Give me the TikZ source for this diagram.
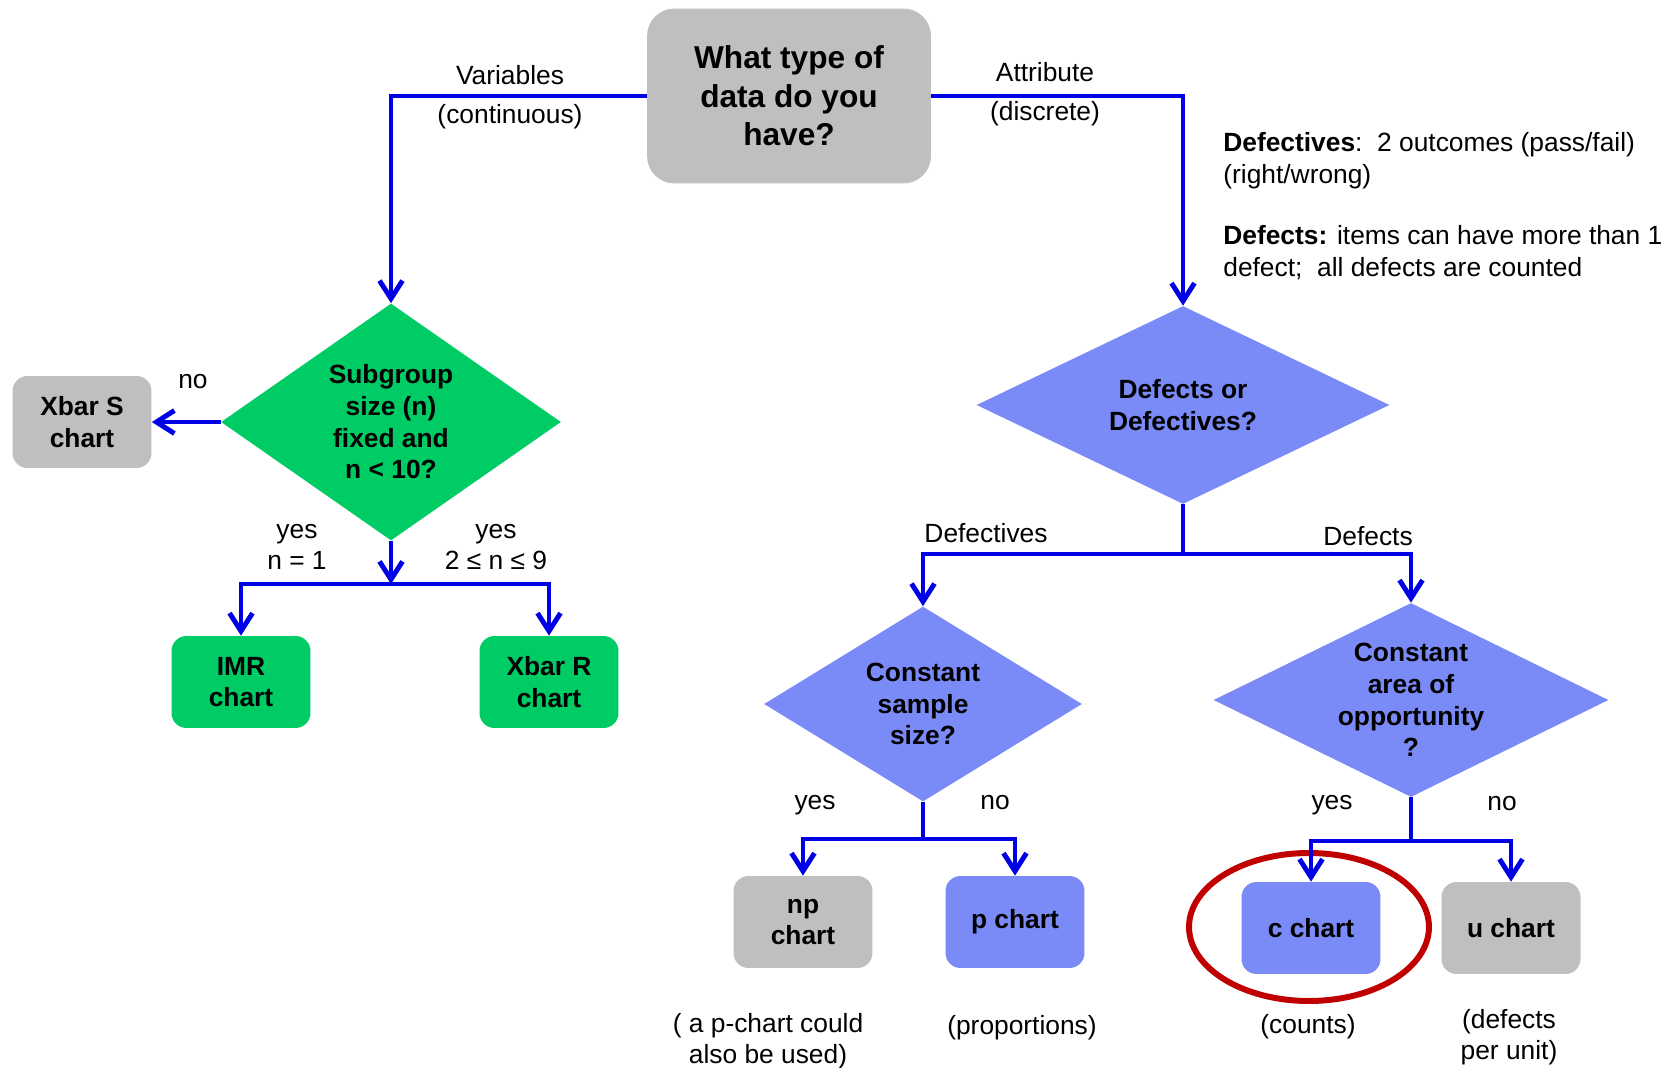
\documentclass[tikz,border=0pt]{standalone}
\usepackage{fontspec}
\setmainfont{Liberation Sans}
\usetikzlibrary{shapes.geometric,arrows.meta}
\definecolor{boxgray}{RGB}{191,191,191}
\definecolor{qgreen}{RGB}{0,204,102}
\definecolor{qblue}{RGB}{122,139,248}
\definecolor{linkblue}{RGB}{0,0,230}
\definecolor{ringred}{RGB}{192,0,0}
\tikzset{
	txt/.style={font=\fontsize{15}{18}\selectfont, align=center, inner sep=0pt},
	chart/.style={txt, font=\fontsize{15}{18}\selectfont\bfseries, rounded corners=0.3cm, minimum width=2.78cm, minimum height=1.84cm},
	ask/.style={txt, font=\fontsize{15}{18}\selectfont\bfseries, diamond},
	link/.style={linkblue, line width=2.8pt},
	arr/.style={link, -{Straight Barb[length=0.36cm,width=0.46cm]}}
}
\begin{document}
\begin{tikzpicture}[x=0.02cm,y=-0.02cm]
		\useasboundingbox (0,0) rectangle (1671,1068);
		\node[txt, font=\fontsize{18}{22}\selectfont\bfseries, fill=boxgray, rounded corners=0.55cm, minimum width=5.68cm, minimum height=3.5cm] (type) at (789,96) {What type of\\data do you\\have?};
		\node[ask, fill=qgreen, aspect=1.43, minimum width=6.8cm, minimum height=4.74cm] (sub) at (391,422) {Subgroup\\size (n)\\fixed and\\n < 10?};
		\node[ask, fill=qblue, aspect=2.08, minimum width=8.26cm, minimum height=3.96cm] (dd) at (1183,405) {Defects or\\Defectives?};
		\node[ask, fill=qblue, aspect=1.63, minimum width=6.36cm, minimum height=3.9cm] (size) at (923,704) {Constant\\sample\\size?};
		\node[ask, fill=qblue, aspect=2.04, minimum width=7.9cm, minimum height=3.88cm] (area) at (1411,700) {Constant\\area of\\opportunity\\?};
		\node[chart, fill=boxgray] (xbars) at (82,422) {Xbar S\\chart};
		\node[chart, fill=qgreen] (imr) at (241,682) {IMR\\chart};
		\node[chart, fill=qgreen] (xbarr) at (549,682) {Xbar R\\chart};
		\node[chart, fill=boxgray] (np) at (803,922) {np\\chart};
		\node[chart, fill=qblue] (p) at (1015,922) {p chart};
		\node[chart, fill=qblue] (c) at (1311,928) {c chart};
		\node[chart, fill=boxgray] (u) at (1511,928) {u chart};
		\draw[ringred, line width=3.4pt] (1309,927) ellipse (2.4cm and 1.48cm);
		\coordinate (subj) at (391,584);
		\coordinate (ddj) at (1183,554);
		\coordinate (sizej) at (923,839);
		\coordinate (areaj) at (1411,841);
		\draw[arr] (type.west) -| (sub.north);
		\draw[arr] (type.east) -| (dd.north);
		\draw[arr] (sub.west) -- (xbars.east);
		\draw[arr] (sub.south) -- (subj);
		\draw[arr] (subj) -| (imr.north);
		\draw[arr] (subj) -| (xbarr.north);
		\draw[link] (dd.south) -- (ddj);
		\draw[arr] (ddj) -| (size.north);
		\draw[arr] (ddj) -| (area.north);
		\draw[link] (size.south) -- (sizej);
		\draw[arr] (sizej) -| (np.north);
		\draw[arr] (sizej) -| (p.north);
		\draw[link] (area.south) -- (areaj);
		\draw[arr] (areaj) -| (c.north);
		\draw[arr] (areaj) -| (u.north);
		\node[txt] (var) at (510,75) {Variables};
		\node[txt] (cont) at (510,117) {(continuous)};
		\node[txt] (attr) at (1045,72) {Attribute};
		\node[txt] (disc) at (1045,114) {(discrete)};
		\node[txt] (subno) at (193,382) {no};
		\node[txt] (subone) at (297,547) {yes\\n = 1};
		\node[txt] (submany) at (496,547) {yes\\2 ≤ n ≤ 9};
		\node[txt] (ddtives) at (986,533) {Defectives};
		\node[txt] (ddfects) at (1368,536) {Defects};
		\node[txt] (sizeyes) at (815,805) {yes};
		\node[txt] (sizeno) at (995,803) {no};
		\node[txt] (areayes) at (1332,805) {yes};
		\node[txt] (areano) at (1502,804) {no};
		\node[txt] (npnote) at (768,1041) {( a p-chart could\\also be used)};
		\node[txt] (pnote) at (1022,1028) {(proportions)};
		\node[txt] (cnote) at (1308,1027) {(counts)};
		\node[txt] (unote) at (1509,1037) {(defects\\per unit)};
		\node[txt, align=left, anchor=north west] (kinds) at (1223,132) {\textbf{Defectives}:\ \ 2 outcomes (pass/fail)\\(right/wrong)\\[17pt]\textbf{Defects:} items can have more than 1\\defect;\ \ all defects are counted};
	\end{tikzpicture}
\end{document}
